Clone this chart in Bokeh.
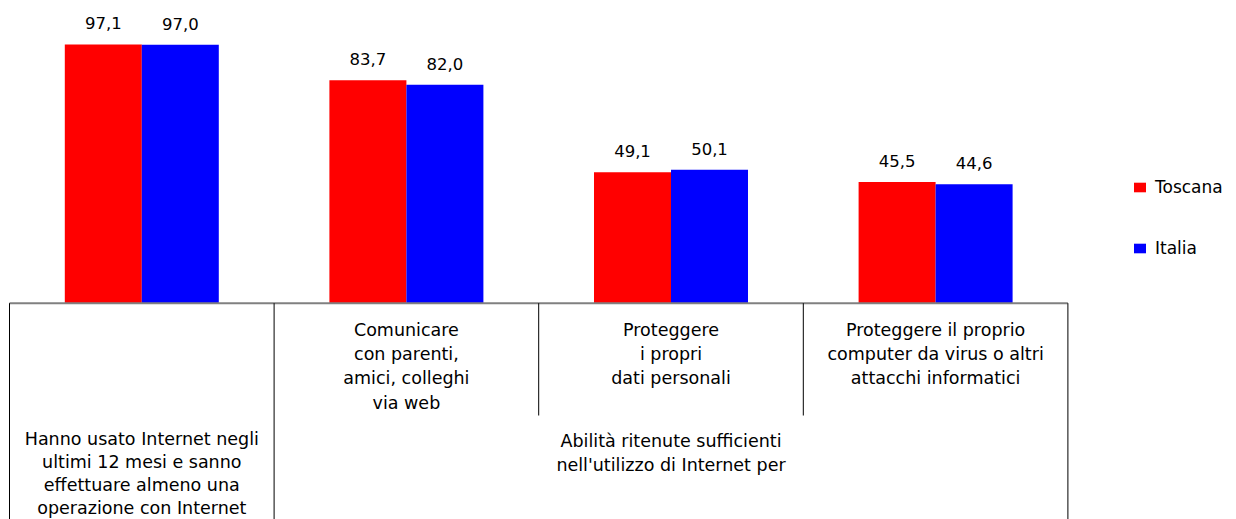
import numpy as np
from bokeh.plotting import figure
from bokeh.models import Range1d, ColumnDataSource, Legend, LegendItem
from bokeh.transform import dodge
from bokeh.core.properties import value
from bokeh.embed import file_html
from bokeh.resources import INLINE

# ---------------- data ----------------
categories = [
    "Hanno usato Internet negli\nultimi 12 mesi e sanno\neffettuare almeno una\noperazione con Internet",
    "Comunicare\ncon parenti,\namici, colleghi\nvia web",
    "Proteggere\ni propri\ndati personali",
    "Proteggere il proprio\ncomputer da virus o altri\nattacchi informatici",
]
group_label = "Abilità ritenute sufficienti\nnell'utilizzo di Internet per"
series_names = ["Toscana", "Italia"]
toscana = [97.1, 83.7, 49.1, 45.5]
italia = [97.0, 82.0, 50.1, 44.6]

# ---------------- layout constants ----------------
W, H = 1236, 519
LEFT_PX = 9.0           # first category boundary, px from the left
CAT_PX = 264.6          # pixels per category
UNIT_PX = 2.665         # pixels per percentage point
BASE_PX = 302.7         # baseline, px from the top of the frame
FONT = "DejaVu Sans"
RED, BLUE = "#FF0000", "#0000FF"
BAR_W = 0.291
OFF = 0.1455

x_start = -LEFT_PX / CAT_PX
x_end = x_start + W / CAT_PX
y_end = BASE_PX / UNIT_PX
y_start = y_end - H / UNIT_PX


def yscr(screen_y):
    """screen y -> data y"""
    return (BASE_PX - screen_y) / UNIT_PX


def fmt(v):
    return f"{v:.1f}".replace(".", ",")


n = len(categories)
src = ColumnDataSource(dict(
    x=np.arange(n) + 0.5,
    toscana=toscana,
    italia=italia,
    tlab=[fmt(v) for v in toscana],
    ilab=[fmt(v) for v in italia],
))

p = figure(width=W, height=H, x_range=Range1d(x_start, x_end), y_range=Range1d(y_start, y_end),
           output_backend="svg", toolbar_location=None, x_axis_type=None, y_axis_type=None,
           min_border=0, outline_line_color=None, background_fill_color="white",
           border_fill_color="white")
p.grid.visible = False

r1 = p.vbar(x=dodge("x", -OFF), top="toscana", width=BAR_W, source=src,
            fill_color=RED, line_color=None)
r2 = p.vbar(x=dodge("x", OFF), top="italia", width=BAR_W, source=src,
            fill_color=BLUE, line_color=None)

for col, lab, off in (("toscana", "tlab", -OFF), ("italia", "ilab", OFF)):
    p.text(x=dodge("x", off), y=col, text=lab, source=src, text_align="center",
           text_baseline="alphabetic", y_offset=-21, text_font=value(FONT),
           text_font_size="16.5px", text_color="#000000")

# axis line and table dividers
p.segment(x0=[0], y0=[0], x1=[n], y1=[0], line_color="#808080", line_width=2)
full = [0, 1, n]
short = list(range(2, n))
p.segment(x0=full, y0=[0] * len(full), x1=full, y1=[y_start] * len(full),
          line_color="#000000", line_width=1)
p.segment(x0=short, y0=[0] * len(short), x1=short, y1=[yscr(415)] * len(short),
          line_color="#000000", line_width=1)

# category labels
tx, ty, tt = [], [], []
for i, lab in enumerate(categories):
    lines = lab.split("\n")
    if i == 0:
        y0, step = 438, 23
    else:
        y0, step = 329, 24.4
    for k, line in enumerate(lines):
        tx.append(i + 0.5)
        ty.append(yscr(y0 + k * step))
        tt.append(line)
for k, line in enumerate(group_label.split("\n")):
    tx.append(1 + (n - 1) / 2)
    ty.append(yscr(440 + k * 24))
    tt.append(line)
p.text(x=tx, y=ty, text=tt, text_align="center", text_baseline="middle",
       text_font=value(FONT), text_font_size="17.5px", text_color="#000000")

legend = Legend(items=[LegendItem(label=series_names[0], renderers=[r1]),
                       LegendItem(label=series_names[1], renderers=[r2])],
                location=(1132, 261), orientation="vertical",
                border_line_color=None, background_fill_alpha=0,
                padding=0, margin=0, spacing=41, glyph_width=15, glyph_height=12,
                label_standoff=8, label_height=12, label_text_font=FONT,
                label_text_font_size="17px", label_text_color="#000000")
p.add_layout(legend)

open("out.html", "w").write(file_html(p, INLINE))
